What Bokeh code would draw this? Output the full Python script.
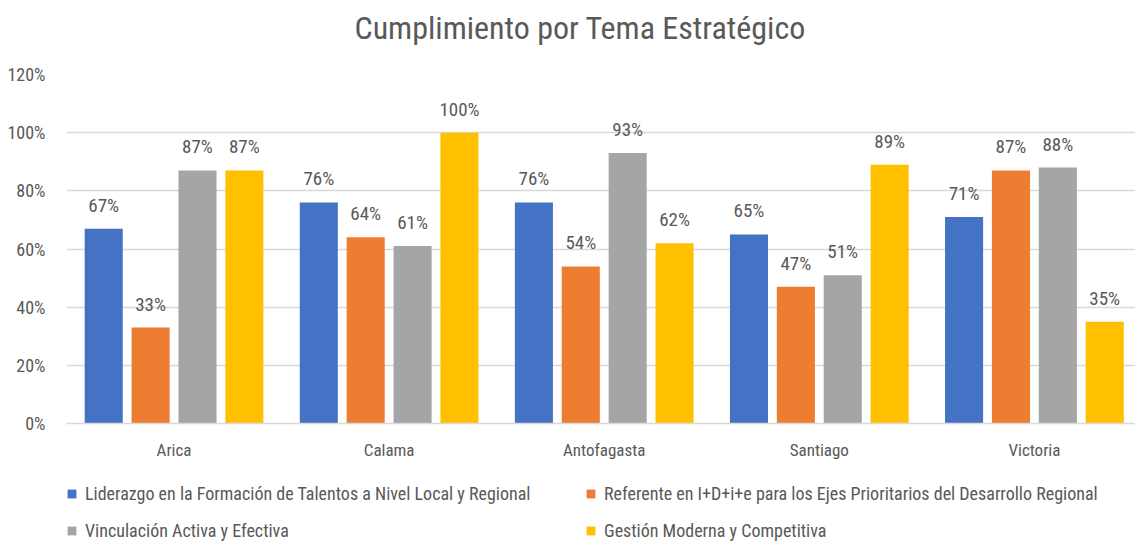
from bokeh.plotting import figure
from bokeh.models import (ColumnDataSource, Range1d, FixedTicker, NumeralTickFormatter,
                          LabelSet, Legend, LegendItem, Title)
from bokeh.layouts import column
from bokeh.core.properties import value
from bokeh.embed import file_html
from bokeh.resources import INLINE

categories = ["Arica", "Calama", "Antofagasta", "Santiago", "Victoria"]
series_names = [
    "Liderazgo en la Formación de Talentos a Nivel Local y Regional",
    "Referente en I+D+i+e para los Ejes Prioritarios del Desarrollo Regional",
    "Vinculación Activa y Efectiva",
    "Gestión Moderna y Competitiva",
]
liderazgo = [67, 76, 76, 65, 71]
referente = [33, 64, 54, 47, 87]
vinculacion = [87, 61, 93, 51, 88]
gestion = [87, 100, 62, 89, 35]
y_ticks = [0, 0.2, 0.4, 0.6, 0.8, 1.0, 1.2]
title_text = "Cumplimiento por Tema Estratégico"

colors = ["#4472C4", "#ED7D31", "#A5A5A5", "#FFC000"]
offsets = [-0.327, -0.109, 0.109, 0.327]
FONT = "Roboto Condensed"
TXT = "#595959"

p = figure(width=1135, height=470, output_backend="svg", toolbar_location=None,
           title=None, x_range=Range1d(0, 4.97), y_range=Range1d(0, 1.2),
           min_border_left=66, min_border_right=0, min_border_top=74,
           min_border_bottom=47, outline_line_color=None)

# spacer nearest the frame, then the real title above it
p.add_layout(Title(text=" ", text_font_size="1px", standoff=25), "above")
p.add_layout(Title(text=title_text, text_font=FONT, text_font_size="32px",
                   text_font_style="normal", text_color=TXT, align="left",
                   offset=288, standoff=0), "above")

# legend panel below the chart (frame aligned with the main chart by the column);
# its ranges keep the swatch renderers completely off-canvas
pl = figure(width=1135, height=74, output_backend="svg", toolbar_location=None,
            x_range=Range1d(50, 55), y_range=Range1d(50, 51),
            min_border_left=0, min_border_right=0, min_border_top=0,
            min_border_bottom=0, outline_line_color=None)
pl.axis.visible = False
pl.grid.grid_line_color = None

items = []
for vals, name, color, off in zip([liderazgo, referente, vinculacion, gestion],
                                  series_names, colors, offsets):
    src = ColumnDataSource(dict(
        x=[i + 0.5 + off for i in range(len(categories))],
        top=[v / 100 for v in vals],
        lab=[f"{v}%" for v in vals],
    ))
    p.vbar(x="x", top="top", width=0.177, bottom=0, source=src,
           fill_color=color, line_color=None)
    p.add_layout(LabelSet(x="x", y="top", text="lab", source=src, y_offset=12,
                          text_align="center", text_baseline="bottom",
                          text_font=value(FONT), text_font_size="19px",
                          text_color=TXT))
    r = pl.vbar(x="x", top="top", width=0.177, bottom=0, source=src,
                fill_color=color, line_color=None)
    items.append(LegendItem(label=name, renderers=[r]))

p.xaxis.ticker = FixedTicker(ticks=[i + 0.5 for i in range(len(categories))])
p.xaxis.major_label_overrides = {i + 0.5: c for i, c in enumerate(categories)}
p.xaxis.axis_line_color = "#D9D9D9"
p.xaxis.axis_line_width = 1.5
p.xaxis.major_tick_line_color = None
p.xaxis.minor_tick_line_color = None
p.xaxis.major_label_standoff = 10
p.xaxis.major_label_text_font = FONT
p.xaxis.major_label_text_font_style = "normal"
p.xaxis.major_label_text_font_size = "17px"
p.xaxis.major_label_text_color = TXT

p.yaxis.ticker = FixedTicker(ticks=y_ticks)
p.yaxis.formatter = NumeralTickFormatter(format="0%")
p.yaxis.axis_line_color = None
p.yaxis.major_tick_line_color = None
p.yaxis.minor_tick_line_color = None
p.yaxis.major_label_standoff = 15
p.yaxis.major_label_text_font = FONT
p.yaxis.major_label_text_font_style = "normal"
p.yaxis.major_label_text_font_size = "18px"
p.yaxis.major_label_text_color = TXT

p.xgrid.grid_line_color = None
p.ygrid.grid_line_color = "#D9D9D9"
p.ygrid.grid_line_width = 1.5

legend = Legend(items=[items[0], items[2], items[1], items[3]],
                orientation="vertical", nrows=2,
                location=(0, 0), padding=0, margin=0, spacing=10,
                glyph_width=11, glyph_height=11, label_standoff=8,
                label_width=490, label_height=27,
                border_line_color=None, background_fill_alpha=0,
                label_text_font=FONT, label_text_font_size="18px",
                label_text_color=TXT)
pl.add_layout(legend, "center")

layout = column(p, pl, spacing=0)
open("out.html", "w").write(file_html(layout, INLINE))
